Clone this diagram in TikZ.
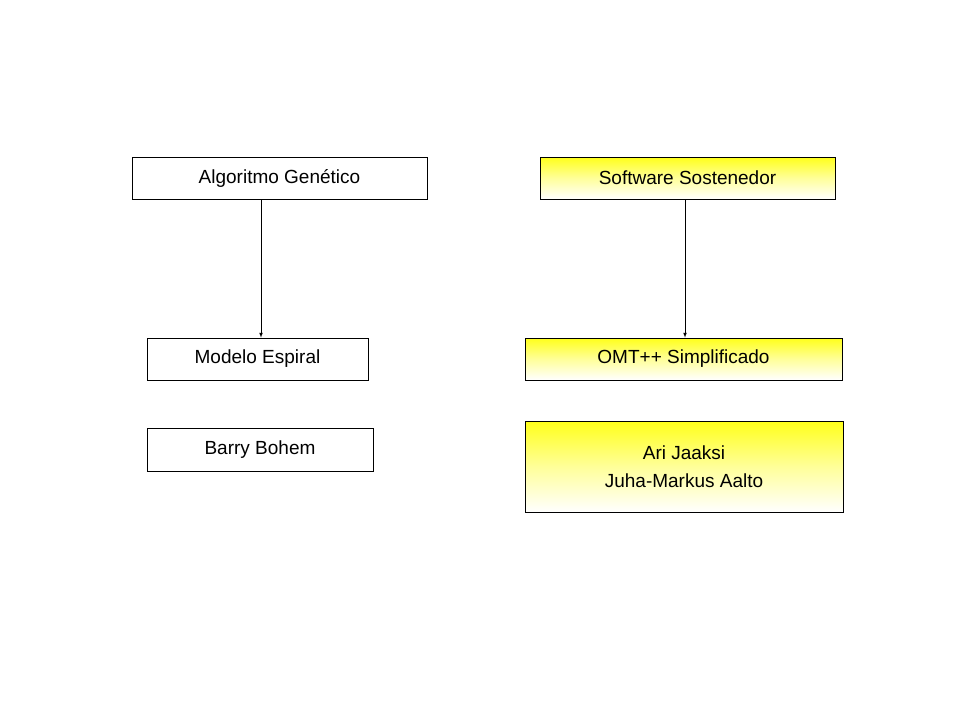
\documentclass[tikz,border=0pt]{standalone}
\usepackage{fontspec}
\setmainfont{Liberation Sans}
\begin{document}
\begin{tikzpicture}[x=1pt,y=-1pt,
  box/.style={draw=black,line width=0.7pt,fill=white,font=\fontsize{19}{28}\selectfont},
  ybox/.style={box,top color=yellow!90,bottom color=white,middle color=yellow!40},
  arr/.style={-latex,line width=0.7pt}]
\useasboundingbox (0,0) rectangle (960,720);
\node[box,minimum width=295pt,minimum height=42pt] (ag) at (279.5,178) {Algoritmo Genético};
\node[ybox,minimum width=295pt,minimum height=42pt] (ss) at (687.5,178) {Software Sostenedor};
\node[box,minimum width=221pt,minimum height=42pt] (me) at (257.5,359) {Modelo Espiral};
\node[ybox,minimum width=317pt,minimum height=42pt] (omt) at (683.5,359) {OMT++ Simplificado};
\node[box,minimum width=226pt,minimum height=43pt] (bb) at (260,449.5) {Barry Bohem};
\node[ybox,minimum width=318pt,minimum height=91pt,align=center] (ari) at (684,466.5) {Ari Jaaksi\\Juha-Markus Aalto};
\draw[arr] (ag.south -| 261,0) -- (me.north -| 261,0);
\draw[arr] (ss.south -| 685,0) -- (omt.north -| 685,0);
\end{tikzpicture}
\end{document}
